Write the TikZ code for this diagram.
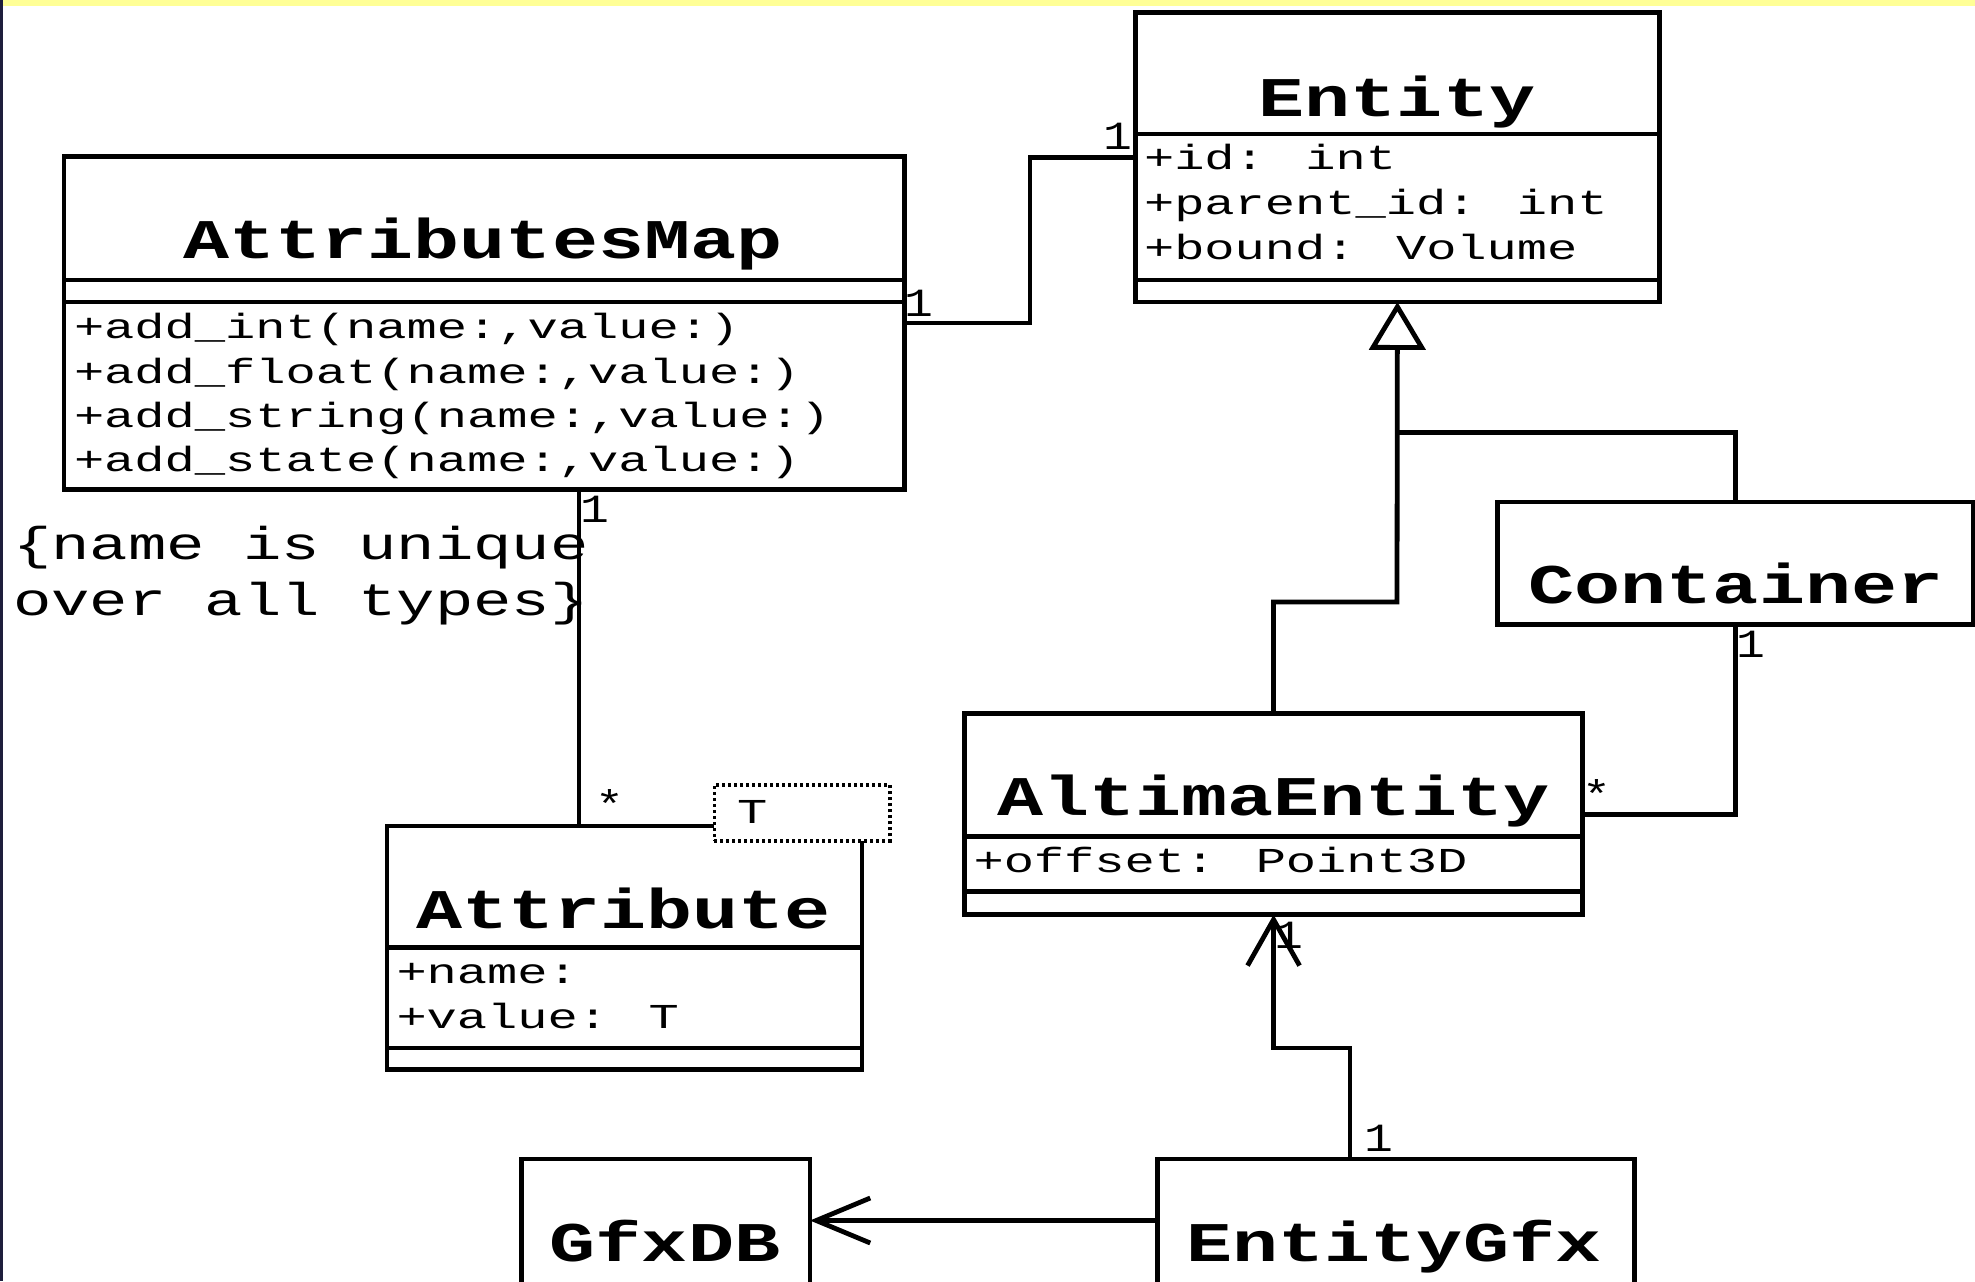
\documentclass[tikz,border=0pt]{standalone}
\usepackage{fontspec}
\usetikzlibrary{arrows.meta,fit}
\newfontfamily\titlefont[FakeStretch=1.37]{Liberation Mono}
\newfontfamily\attrfont[FakeStretch=1.44]{Liberation Mono}
\newfontfamily\notefont[FakeStretch=1.39]{Liberation Mono}
\newfontfamily\multfont[FakeStretch=1.2]{Liberation Mono}
\definecolor{bandyellow}{RGB}{255,255,150}
\definecolor{edgenavy}{RGB}{30,30,60}
\tikzset{
  umlbox/.style={draw=black, line width=2.4pt, inner sep=0pt, outer sep=0pt, fill=white},
  tmplbox/.style={draw=black, line width=1.8pt, dash pattern=on 1.5pt off 1.5pt, inner sep=0pt, outer sep=0pt, fill=white},
  sepline/.style={line width=2.4pt},
  conn/.style={line width=2.4pt},
  titletxt/.style={inner sep=0pt, outer sep=0pt, anchor=base, font=\titlefont\fontsize{28}{30}\selectfont\bfseries},
  attrtxt/.style={inner sep=0pt, outer sep=0pt, anchor=base west, font=\attrfont\fontsize{17.5}{20}\selectfont},
  notetxt/.style={inner sep=0pt, outer sep=0pt, anchor=base west, font=\notefont\fontsize{23}{25}\selectfont},
  multtxt/.style={inner sep=0pt, outer sep=0pt, anchor=base, font=\multfont\fontsize{20}{22}\selectfont},
}
\begin{document}
\begin{tikzpicture}[x=0.5pt,y=-0.5pt]
\useasboundingbox (0,0) rectangle (1975,1281);
\clip (0,0) rectangle (1975,1281);
\fill[white] (0,0) rectangle (1975,1281);
\fill[bandyellow] (0,0) rectangle (1975,6);
\fill[edgenavy] (0,0) rectangle (2.5,1281);

% boxes
\node[umlbox, fit={(1135.6,12.2) (1659.2,302)}] (entity) {};
\node[umlbox, fit={(64,156.3) (904.3,489.8)}] (am) {};
\node[umlbox, fit={(1497.5,502) (1973,624.5)}] (container) {};
\node[umlbox, fit={(964.4,713.6) (1582.7,914.7)}] (ae) {};
\node[umlbox, fit={(387,826) (862,1069.3)}] (attr) {};
\node[umlbox, fit={(521.7,1159) (810,1330)}] (gfxdb) {};
\node[umlbox, fit={(1157.8,1159) (1634.3,1330)}] (egfx) {};

% compartment separators
\draw[sepline] (entity.west |- 0,133.9) -- (entity.east |- 0,133.9);
\draw[sepline] (entity.west |- 0,280) -- (entity.east |- 0,280);
\draw[sepline] (am.west |- 0,280) -- (am.east |- 0,280);
\draw[sepline] (am.west |- 0,302) -- (am.east |- 0,302);
\draw[sepline] (ae.west |- 0,836.2) -- (ae.east |- 0,836.2);
\draw[sepline] (ae.west |- 0,891.4) -- (ae.east |- 0,891.4);
\draw[sepline] (attr.west |- 0,947.4) -- (attr.east |- 0,947.4);
\draw[sepline] (attr.west |- 0,1048) -- (attr.east |- 0,1048);

% template parameter box
\node[tmplbox, fit={(714.3,785) (889.7,841)}] (tparam) {};

% connectors
\coordinate (k1) at (1030,240);
\draw[conn] (am.east) -| (k1) |- (entity.west);
\coordinate (k2) at (579,650);
\draw[conn] (am.south -| k2) -- (attr.north -| k2);
\coordinate (k5) at (1397,602);
\draw[conn, -{Triangle[open, length=23.9pt, width=28pt]}] (ae.north) |- (k5) -- (entity.south);
\coordinate (j1) at (1397,432.7);
\draw[conn] (j1) -| (container.north);
\draw[conn] (container.south) |- (ae.east);
\coordinate (k6) at (1350,1048);
\draw[conn, -{Straight Barb[length=23pt, width=26pt]}] (egfx.north -| k6) -- (k6) -| (ae.south);
\coordinate (k7) at (1000,1220.5);
\draw[conn, -{Straight Barb[length=27pt, width=22.5pt]}] (egfx.west |- k7) -- (gfxdb.east |- k7);

% titles
\node[titletxt] (tEntity) at (1397,116.3) {Entity};
\node[titletxt] (tAM) at (483,258) {AttributesMap};
\node[titletxt] (tContainer) at (1736,603.3) {Container};
\node[titletxt] (tAE) at (1273.6,815.8) {AltimaEntity};
\node[titletxt] (tAttr) at (623.5,928.2) {Attribute};
\node[titletxt] (tGfxDB) at (665,1261.4) {GfxDB};
\node[titletxt] (tEGfx) at (1394,1261.4) {EntityGfx};

% attributes / operations
\node[attrtxt] (e1) at (1144,169.4) {+id: int};
\node[attrtxt] (e2) at (1144,214.3) {+parent\_id: int};
\node[attrtxt] (e3) at (1144,259.2) {+bound: Volume};
\node[attrtxt] (m1) at (74,338) {+add\_int(name:,value:)};
\node[attrtxt] (m2) at (74,383) {+add\_float(name:,value:)};
\node[attrtxt] (m3) at (74,427) {+add\_string(name:,value:)};
\node[attrtxt] (m4) at (74,471.5) {+add\_state(name:,value:)};
\node[attrtxt] (ae1) at (973.5,872.2) {+offset: Point3D};
\node[attrtxt] (at1) at (396.5,983.4) {+name:};
\node[attrtxt] (at2) at (396.5,1028.4) {+value: T};
\node[attrtxt] (tT) at (737,823) {T};

% note
\node[notetxt] (n1) at (13,559) {\{name is unique};
\node[notetxt] (n2) at (13,615) {over all types\}};

% multiplicities
\node[multtxt] (l1) at (918.5,316) {1};
\node[multtxt] (l2) at (1118,149) {1};
\node[multtxt] (l3) at (595,522) {1};
\node[multtxt] (l4) at (609.5,818) {*};
\node[multtxt] (l5) at (1751,657) {1};
\node[multtxt] (l6) at (1597,808) {*};
\node[multtxt] (l7) at (1378.5,1151) {1};
\node[multtxt] (l8) at (1288.5,948.6) {1};
\end{tikzpicture}
\end{document}
